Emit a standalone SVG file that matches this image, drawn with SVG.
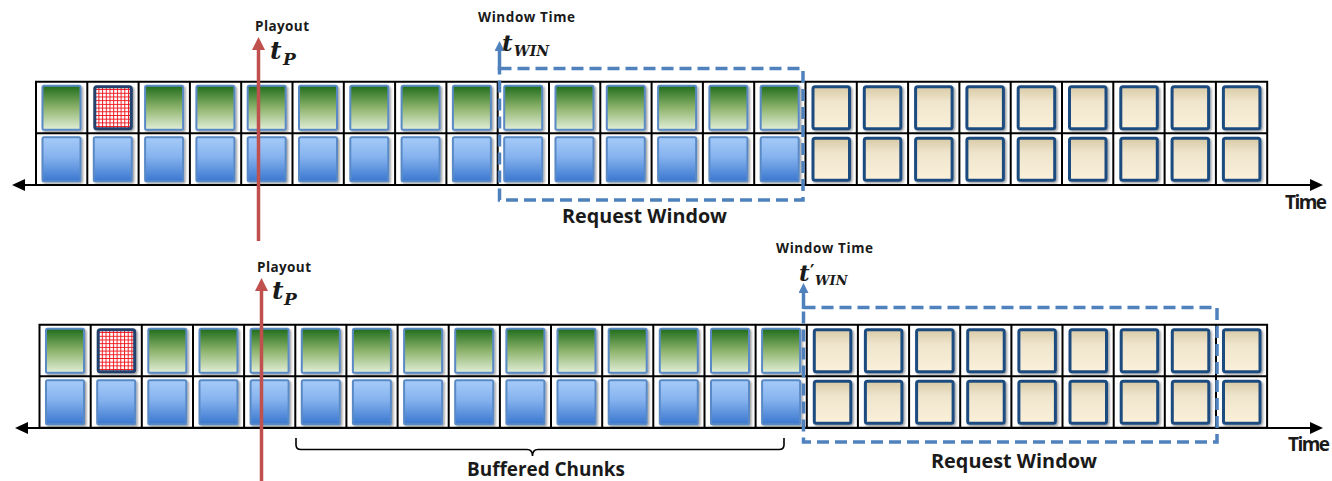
<svg xmlns="http://www.w3.org/2000/svg" xmlns:xlink="http://www.w3.org/1999/xlink" width="1332" height="481" viewBox="0 0 1332 481">
<style>
.grid{fill:#fff;stroke:#000;stroke-width:2}
.gline{fill:none;stroke:#000;stroke-width:2}
.axis{stroke:#000;stroke-width:2;fill:none}
.play{stroke:#c0504d;stroke-width:3.5;fill:none}
.win{stroke:#4f81bd;stroke-width:3.5;fill:none}
.winrect{stroke:#4f81bd;stroke-width:3.5;fill:none;stroke-dasharray:12 6}
.lbl{font-family:"Open Sans","Liberation Sans",sans-serif;font-weight:bold;fill:#1a1a1a}
.small{font-size:13.5px}
.big{font-size:19px}
.math{font-family:"DejaVu Serif","Liberation Serif",serif;font-weight:bold;font-style:italic;fill:#1a1a1a}
.brace{fill:none;stroke:#000;stroke-width:1.6}
</style>
<defs>
<linearGradient id="gG" x1="0" y1="0" x2="0" y2="1">
<stop offset="0" stop-color="#1f6c1b"/><stop offset="0.5" stop-color="#8db36c"/><stop offset="1" stop-color="#e2eed8"/>
</linearGradient>
<linearGradient id="gB" x1="0" y1="0" x2="0" y2="1">
<stop offset="0" stop-color="#a6cbf9"/><stop offset="0.45" stop-color="#85b2ee"/><stop offset="1" stop-color="#3a77cf"/>
</linearGradient>
<linearGradient id="gY" x1="0" y1="0" x2="0" y2="1">
<stop offset="0" stop-color="#d8caa6"/><stop offset="0.35" stop-color="#efe5cd"/><stop offset="1" stop-color="#fbf0d9"/>
</linearGradient>
<pattern id="redgrid" width="3.7" height="3.7" patternUnits="userSpaceOnUse">
<rect width="3.7" height="3.7" fill="#fff"/>
<path d="M0.5 0V3.7M0 0.5H3.7" stroke="#f01820" stroke-width="1"/>
</pattern>
<filter id="sh" x="-20%" y="-20%" width="150%" height="150%">
<feDropShadow dx="1.5" dy="1.5" stdDeviation="1.3" flood-color="#000" flood-opacity="0.4"/>
</filter>
<g id="G"><rect x="6.5" y="4" width="38" height="44" rx="1.5" fill="url(#gG)" stroke="#5a8ac6" stroke-width="2" filter="url(#sh)"/></g>
<g id="B"><rect x="6.5" y="4" width="38" height="44" rx="1.5" fill="url(#gB)" stroke="#5a8ac6" stroke-width="2" filter="url(#sh)"/></g>
<g id="Y"><rect x="7.5" y="5" width="36.5" height="42" rx="2" fill="url(#gY)" stroke="#1f4c80" stroke-width="3" filter="url(#sh)"/></g>
<g id="R"><rect x="7.5" y="5" width="36.5" height="42" rx="2" fill="url(#redgrid)" stroke="#213f6c" stroke-width="3" filter="url(#sh)"/></g>
<marker id="ahK" markerUnits="userSpaceOnUse" markerWidth="14" markerHeight="13" refX="2" refY="6" orient="auto-start-reverse"><path d="M0 0L13 6L0 12Z" fill="#000"/></marker>
<marker id="ahR" markerUnits="userSpaceOnUse" markerWidth="14" markerHeight="14" refX="2" refY="6.5" orient="auto"><path d="M0 0L13 6.5L0 13Z" fill="#c0504d"/></marker>
<marker id="ahB" markerUnits="userSpaceOnUse" markerWidth="11" markerHeight="11" refX="2" refY="5" orient="auto"><path d="M0 0L10 5L0 10Z" fill="#4f81bd"/></marker>
</defs>

<!-- TOP TIMELINE -->
<g id="top-timeline">
<path class="grid" d="M36 81.7H1267.2V185H36Z"/>
<path class="gline" d="M36 133.3H1267.2M87.3 81.7V185M138.6 81.7V185M189.9 81.7V185M241.2 81.7V185M292.5 81.7V185M343.8 81.7V185M395.1 81.7V185M446.4 81.7V185M497.7 81.7V185M549 81.7V185M600.3 81.7V185M651.6 81.7V185M702.9 81.7V185M754.2 81.7V185M805.5 81.7V185M856.8 81.7V185M908.1 81.7V185M959.4 81.7V185M1010.7 81.7V185M1062 81.7V185M1113.3 81.7V185M1164.6 81.7V185M1215.9 81.7V185"/>
<g id="t01"><use href="#G" x="36" y="81.7"/><use href="#B" x="36" y="133.3"/></g>
<g id="t02"><use href="#R" x="87.3" y="81.7"/><use href="#B" x="87.3" y="133.3"/></g>
<g id="t03"><use href="#G" x="138.6" y="81.7"/><use href="#B" x="138.6" y="133.3"/></g>
<g id="t04"><use href="#G" x="189.9" y="81.7"/><use href="#B" x="189.9" y="133.3"/></g>
<g id="t05"><use href="#G" x="241.2" y="81.7"/><use href="#B" x="241.2" y="133.3"/></g>
<g id="t06"><use href="#G" x="292.5" y="81.7"/><use href="#B" x="292.5" y="133.3"/></g>
<g id="t07"><use href="#G" x="343.8" y="81.7"/><use href="#B" x="343.8" y="133.3"/></g>
<g id="t08"><use href="#G" x="395.1" y="81.7"/><use href="#B" x="395.1" y="133.3"/></g>
<g id="t09"><use href="#G" x="446.4" y="81.7"/><use href="#B" x="446.4" y="133.3"/></g>
<g id="t10"><use href="#G" x="497.7" y="81.7"/><use href="#B" x="497.7" y="133.3"/></g>
<g id="t11"><use href="#G" x="549" y="81.7"/><use href="#B" x="549" y="133.3"/></g>
<g id="t12"><use href="#G" x="600.3" y="81.7"/><use href="#B" x="600.3" y="133.3"/></g>
<g id="t13"><use href="#G" x="651.6" y="81.7"/><use href="#B" x="651.6" y="133.3"/></g>
<g id="t14"><use href="#G" x="702.9" y="81.7"/><use href="#B" x="702.9" y="133.3"/></g>
<g id="t15"><use href="#G" x="754.2" y="81.7"/><use href="#B" x="754.2" y="133.3"/></g>
<g id="t16"><use href="#Y" x="805.5" y="81.7"/><use href="#Y" x="805.5" y="133.3"/></g>
<g id="t17"><use href="#Y" x="856.8" y="81.7"/><use href="#Y" x="856.8" y="133.3"/></g>
<g id="t18"><use href="#Y" x="908.1" y="81.7"/><use href="#Y" x="908.1" y="133.3"/></g>
<g id="t19"><use href="#Y" x="959.4" y="81.7"/><use href="#Y" x="959.4" y="133.3"/></g>
<g id="t20"><use href="#Y" x="1010.7" y="81.7"/><use href="#Y" x="1010.7" y="133.3"/></g>
<g id="t21"><use href="#Y" x="1062" y="81.7"/><use href="#Y" x="1062" y="133.3"/></g>
<g id="t22"><use href="#Y" x="1113.3" y="81.7"/><use href="#Y" x="1113.3" y="133.3"/></g>
<g id="t23"><use href="#Y" x="1164.6" y="81.7"/><use href="#Y" x="1164.6" y="133.3"/></g>
<g id="t24"><use href="#Y" x="1215.9" y="81.7"/><use href="#Y" x="1215.9" y="133.3"/></g>
</g>

<!-- BOTTOM TIMELINE -->
<g id="bottom-timeline">
<path class="grid" d="M39.5 324.7H1267.1V427.7H39.5Z"/>
<path class="gline" d="M39.5 376.2H1267.1M90.7 324.7V427.7M141.8 324.7V427.7M193 324.7V427.7M244.1 324.7V427.7M295.3 324.7V427.7M346.4 324.7V427.7M397.6 324.7V427.7M448.7 324.7V427.7M499.9 324.7V427.7M551 324.7V427.7M602.2 324.7V427.7M653.3 324.7V427.7M704.5 324.7V427.7M755.6 324.7V427.7M806.8 324.7V427.7M857.9 324.7V427.7M909.1 324.7V427.7M960.2 324.7V427.7M1011.4 324.7V427.7M1062.5 324.7V427.7M1113.7 324.7V427.7M1164.8 324.7V427.7M1216 324.7V427.7"/>
<g id="b01"><use href="#G" x="39.5" y="324.7"/><use href="#B" x="39.5" y="376.2"/></g>
<g id="b02"><use href="#R" x="90.7" y="324.7"/><use href="#B" x="90.7" y="376.2"/></g>
<g id="b03"><use href="#G" x="141.8" y="324.7"/><use href="#B" x="141.8" y="376.2"/></g>
<g id="b04"><use href="#G" x="193" y="324.7"/><use href="#B" x="193" y="376.2"/></g>
<g id="b05"><use href="#G" x="244.1" y="324.7"/><use href="#B" x="244.1" y="376.2"/></g>
<g id="b06"><use href="#G" x="295.3" y="324.7"/><use href="#B" x="295.3" y="376.2"/></g>
<g id="b07"><use href="#G" x="346.4" y="324.7"/><use href="#B" x="346.4" y="376.2"/></g>
<g id="b08"><use href="#G" x="397.6" y="324.7"/><use href="#B" x="397.6" y="376.2"/></g>
<g id="b09"><use href="#G" x="448.7" y="324.7"/><use href="#B" x="448.7" y="376.2"/></g>
<g id="b10"><use href="#G" x="499.9" y="324.7"/><use href="#B" x="499.9" y="376.2"/></g>
<g id="b11"><use href="#G" x="551" y="324.7"/><use href="#B" x="551" y="376.2"/></g>
<g id="b12"><use href="#G" x="602.2" y="324.7"/><use href="#B" x="602.2" y="376.2"/></g>
<g id="b13"><use href="#G" x="653.3" y="324.7"/><use href="#B" x="653.3" y="376.2"/></g>
<g id="b14"><use href="#G" x="704.5" y="324.7"/><use href="#B" x="704.5" y="376.2"/></g>
<g id="b15"><use href="#G" x="755.6" y="324.7"/><use href="#B" x="755.6" y="376.2"/></g>
<g id="b16"><use href="#Y" x="806.8" y="324.7"/><use href="#Y" x="806.8" y="376.2"/></g>
<g id="b17"><use href="#Y" x="857.9" y="324.7"/><use href="#Y" x="857.9" y="376.2"/></g>
<g id="b18"><use href="#Y" x="909.1" y="324.7"/><use href="#Y" x="909.1" y="376.2"/></g>
<g id="b19"><use href="#Y" x="960.2" y="324.7"/><use href="#Y" x="960.2" y="376.2"/></g>
<g id="b20"><use href="#Y" x="1011.4" y="324.7"/><use href="#Y" x="1011.4" y="376.2"/></g>
<g id="b21"><use href="#Y" x="1062.5" y="324.7"/><use href="#Y" x="1062.5" y="376.2"/></g>
<g id="b22"><use href="#Y" x="1113.7" y="324.7"/><use href="#Y" x="1113.7" y="376.2"/></g>
<g id="b23"><use href="#Y" x="1164.8" y="324.7"/><use href="#Y" x="1164.8" y="376.2"/></g>
<g id="b24"><use href="#Y" x="1216" y="324.7"/><use href="#Y" x="1216" y="376.2"/></g>
</g>

<!-- CONNECTORS -->
<g id="connectors">
<line class="axis" x1="23" y1="185" x2="1312" y2="185" marker-start="url(#ahK)" marker-end="url(#ahK)"/>
<line class="axis" x1="26" y1="428" x2="1312" y2="428" marker-start="url(#ahK)" marker-end="url(#ahK)"/>
<rect class="winrect" x="499.5" y="68.5" width="303.5" height="131.5"/>
<line class="win" x1="499.5" y1="70" x2="499.5" y2="49" marker-end="url(#ahB)"/>
<rect class="winrect" x="803.5" y="307.5" width="413.5" height="134.5"/>
<line class="win" x1="803.5" y1="309" x2="803.5" y2="291" marker-end="url(#ahB)"/>
<line class="play" x1="258.5" y1="241" x2="258.5" y2="48" marker-end="url(#ahR)"/>
<line class="play" x1="261.5" y1="481" x2="261.5" y2="289" marker-end="url(#ahR)"/>
<path class="brace" d="M296 438V445Q296 449.5 301 449.5H527Q532.5 449.5 532.5 456Q532.5 449.5 538 449.5H779Q784 449.5 784 445V438"/>
</g>

<!-- LABELS -->
<g id="labels">
<text class="lbl small" x="255" y="31" textLength="54">Playout</text>
<text class="math" x="270" y="58.5" font-size="25">t</text>
<text class="math" x="283" y="65" font-size="17">P</text>
<text class="lbl small" x="478" y="22" textLength="97">Window Time</text>
<text class="math" x="502" y="51" font-size="23">t</text>
<text class="math" x="514" y="56" font-size="14">WIN</text>
<text class="lbl big" x="562" y="223" textLength="165" lengthAdjust="spacingAndGlyphs">Request Window</text>
<text class="lbl big" x="1285" y="209" textLength="42">Time</text>

<text class="lbl small" x="257" y="272" textLength="54">Playout</text>
<text class="math" x="272" y="299" font-size="25">t</text>
<text class="math" x="284" y="305" font-size="17">P</text>
<text class="lbl small" x="776" y="253" textLength="97">Window Time</text>
<text class="math" x="799" y="281" font-size="23">t</text>
<text x="810" y="277" font-family="DejaVu Sans, sans-serif" font-weight="bold" font-size="17" fill="#1a1a1a">′</text>
<text class="math" x="815" y="284.5" font-size="13">WIN</text>
<text class="lbl big" x="931" y="468" textLength="166" lengthAdjust="spacingAndGlyphs">Request Window</text>
<text class="lbl big" x="1288" y="451" textLength="42">Time</text>
<text class="lbl big" x="467" y="476" textLength="158" lengthAdjust="spacingAndGlyphs">Buffered Chunks</text>
</g>
</svg>
